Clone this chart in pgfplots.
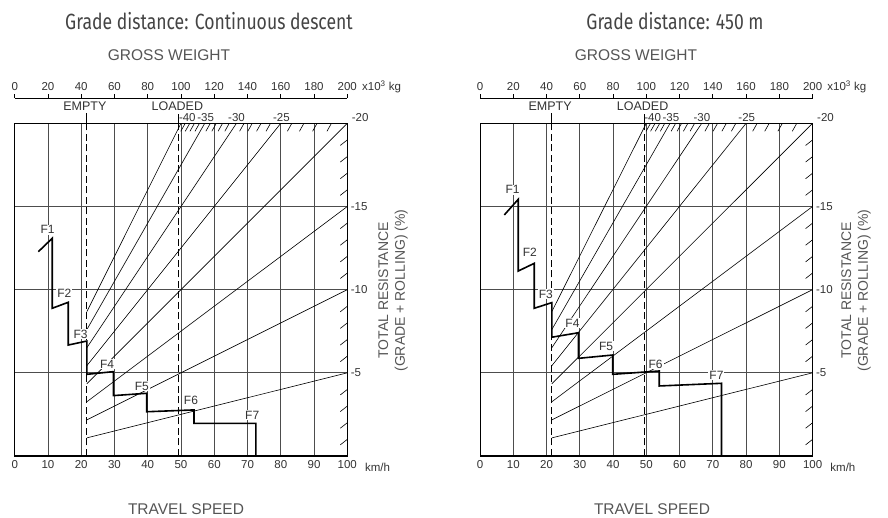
\documentclass[border=0pt]{standalone}
\usepackage{fontspec}
\setmainfont{Liberation Sans}
\newfontfamily\titlefont{Fira Sans}
\usepackage{graphicx}
\usepackage{pgfplots}
\pgfplotsset{compat=1.18}

\definecolor{txt}{HTML}{333333}
\definecolor{ttl}{HTML}{555555}
\definecolor{hdr}{HTML}{444444}
\definecolor{gridc}{HTML}{4D4D4D}

\newcommand\ticksize{\fontsize{11.5}{12}\selectfont}

\pgfplotsset{
  chart/.style={
    scale only axis, width=332.6pt, height=332.7pt,
    xmin=0, xmax=100, ymin=0, ymax=20,
    clip=false,
    axis line style={black, line width=0.7pt},
    xtick={0,10,...,100},
    ytick={5,10,15}, yticklabels={-5,-10,-15},
    yticklabel pos=right,
    major tick length=0pt,
    xmajorgrids, ymajorgrids,
    grid style={gridc, line width=0.75pt},
    tick label style={font=\ticksize, text=txt},
    /pgf/number format/assume math mode=true,
    xticklabel style={yshift=-1pt},
  },
  gw/.style={
    scale only axis, width=332.6pt, height=357.5pt,
    xmin=0, xmax=200, ymin=0, ymax=1,
    axis x line*=top, axis y line=none,
    xtick={0,20,...,200},
    tick align=outside, major tick length=4pt,
    axis line style={black, line width=0.7pt},
    tick style={black, line width=0.7pt},
    tick label style={font=\ticksize, text=txt},
    /pgf/number format/assume math mode=true,
  },
}
\tikzset{flab/.style={fill=white, inner sep=1pt, font=\fontsize{12}{12}\selectfont, text=txt}}

% shared drawing inside each main axis: #1 = empty-line speed
\newcommand\chartcommon[1]{%
  \draw[black, line width=1.3pt] (axis cs:0,20) -- (axis cs:100,20);
  \draw[black, line width=1.3pt] (axis cs:0,0) -- (axis cs:100,0);
  % weight / resistance lines
  \addplot[black, line width=0.6pt] coordinates {(#1,8.68) (50,20)};
  \addplot[black, line width=0.6pt] coordinates {(#1,7.60) (57.14,20)};
  \addplot[black, line width=0.6pt] coordinates {(#1,6.51) (66.67,20)};
  \addplot[black, line width=0.6pt] coordinates {(#1,5.43) (80,20)};
  \addplot[black, line width=0.6pt] coordinates {(#1,4.34) (100,20)};
  \addplot[black, line width=0.6pt] coordinates {(#1,3.26) (100,15)};
  \addplot[black, line width=0.6pt] coordinates {(#1,2.17) (100,10)};
  \addplot[black, line width=0.6pt] coordinates {(#1,1.09) (100,5)};
  % empty / loaded
  \addplot[black, line width=0.9pt, dash pattern=on 7pt off 3.5pt] coordinates {(#1,0) (#1,20)};
  \addplot[black, line width=0.9pt, dash pattern=on 7pt off 3.5pt] coordinates {(49.3,0) (49.3,20)};
  \draw[black, line width=0.8pt] (axis cs:#1,20) -- (axis cs:#1,20.62);
  \draw[black, line width=0.8pt] (axis cs:49.3,20) -- (axis cs:49.3,20.55);
  % hatches
  \pgfplotsinvokeforeach{51.28,52.63,54.05,55.56,58.82,60.61,62.5,64.52,68.97,71.43,74.07,76.92,83.33,86.96,90.91,95.24}{
    \draw[black, line width=0.6pt] (axis cs:##1,20) -- ++(-4.5pt,-8pt);
  }
  \pgfplotsinvokeforeach{1,2,3,4,6,7,8,9,11,12,13,14,16,17,18,19}{
    \draw[black, line width=0.6pt] (axis cs:100,##1) -- ++(-7pt,-5.5pt);
  }
  % texts
  \node[font=\fontsize{12.5}{13}\selectfont, text=txt] at (axis cs:21.1,21.04) {EMPTY};
  \node[font=\fontsize{12.5}{13}\selectfont, text=txt] at (axis cs:48.9,21.04) {LOADED};
  \node[font=\fontsize{11.5}{11.5}\selectfont, text=txt, anchor=south, inner sep=1pt] at (axis cs:51.9,20) {-40};
  \node[font=\fontsize{11.5}{11.5}\selectfont, text=txt, anchor=south, inner sep=1pt] at (axis cs:57.4,20) {-35};
  \node[font=\fontsize{11.5}{11.5}\selectfont, text=txt, anchor=south, inner sep=1pt] at (axis cs:66.7,20) {-30};
  \node[font=\fontsize{11.5}{11.5}\selectfont, text=txt, anchor=south, inner sep=1pt] at (axis cs:80.2,20) {-25};
  \node[font=\ticksize, text=txt, anchor=west, inner sep=0pt, xshift=4.4pt] at (axis cs:100,20.37) {-20};
  \node[font=\ticksize, text=txt, anchor=west, inner sep=0pt] at (axis cs:104.4,22.18) {x10\textsuperscript{3} kg};
  \node[font=\ticksize, text=txt, anchor=west, inner sep=0pt] at (axis cs:105.3,-0.66) {km/h};
}

\begin{document}
\begin{tikzpicture}
\path[use as bounding box] (0,0) rectangle (888pt,518pt);

% ---------- left chart ----------
\node[text=hdr] at (209pt,497pt) {\scalebox{0.8}[1]{\titlefont\fontsize{22}{22}\selectfont Grade distance: Continuous descent}};
\node[text=ttl, font=\fontsize{15.5}{16}\selectfont] at (169pt,463pt) {GROSS WEIGHT};
\node[text=ttl, font=\fontsize{15.5}{16}\selectfont] at (186pt,9pt) {TRAVEL SPEED};
\node[text=ttl, font=\fontsize{14}{16.7}\selectfont, rotate=90, align=center] at (393pt,227.5pt) {TOTAL RESISTANCE\\(GRADE + ROLLING) (\%)};

\begin{axis}[gw, at={(14.7pt,62pt)}, anchor=south west]
\end{axis}

\begin{axis}[chart, at={(14.7pt,62pt)}, anchor=south west]
\chartcommon{21.7}
\addplot[black, line width=1.6pt, line join=miter] coordinates {
  (7.1,12.28) (11.3,13.09) (11.3,8.88) (16.1,9.24) (16.1,6.67) (21.7,6.91)
  (21.7,4.91) (29.65,5.07) (29.65,3.63) (39.7,3.77) (39.7,2.66) (53.9,2.77)
  (53.9,1.96) (72.5,1.96) (72.5,0)
};
\node[flab] at (axis cs:9.9,13.6) {F1};
\node[flab] at (axis cs:14.9,9.78) {F2};
\node[flab] at (axis cs:19.8,7.33) {F3};
\node[flab] at (axis cs:27.8,5.53) {F4};
\node[flab] at (axis cs:38.2,4.21) {F5};
\node[flab] at (axis cs:53,3.37) {F6};
\node[flab] at (axis cs:71.4,2.46) {F7};
\end{axis}

% ---------- right chart ----------
\node[text=hdr] at (675pt,497pt) {\scalebox{0.8}[1]{\titlefont\fontsize{22}{22}\selectfont Grade distance: 450 m}};
\node[text=ttl, font=\fontsize{15.5}{16}\selectfont] at (636pt,463pt) {GROSS WEIGHT};
\node[text=ttl, font=\fontsize{15.5}{16}\selectfont] at (652pt,9pt) {TRAVEL SPEED};
\node[text=ttl, font=\fontsize{14}{16.7}\selectfont, rotate=90, align=center] at (856pt,227.5pt) {TOTAL RESISTANCE\\(GRADE + ROLLING) (\%)};

\begin{axis}[gw, at={(480pt,62pt)}, anchor=south west]
\end{axis}

\begin{axis}[chart, at={(480pt,62pt)}, anchor=south west]
\chartcommon{21.6}
\addplot[black, line width=1.6pt, line join=miter] coordinates {
  (7.3,14.49) (11.5,15.43) (11.5,11.12) (16.3,11.58) (16.3,8.88) (21.6,9.22)
  (21.6,7.14) (29.6,7.41) (29.6,5.87) (39.9,6.07) (39.9,4.91) (53.9,5.11)
  (53.9,4.21) (72.6,4.37) (72.6,0)
};
\node[flab] at (axis cs:9.8,16.0) {F1};
\node[flab] at (axis cs:15.0,12.22) {F2};
\node[flab] at (axis cs:19.8,9.74) {F3};
\node[flab] at (axis cs:27.8,7.98) {F4};
\node[flab] at (axis cs:37.9,6.61) {F5};
\node[flab] at (axis cs:52.8,5.53) {F6};
\node[flab] at (axis cs:71.1,4.87) {F7};
\end{axis}
\end{tikzpicture}
\end{document}
